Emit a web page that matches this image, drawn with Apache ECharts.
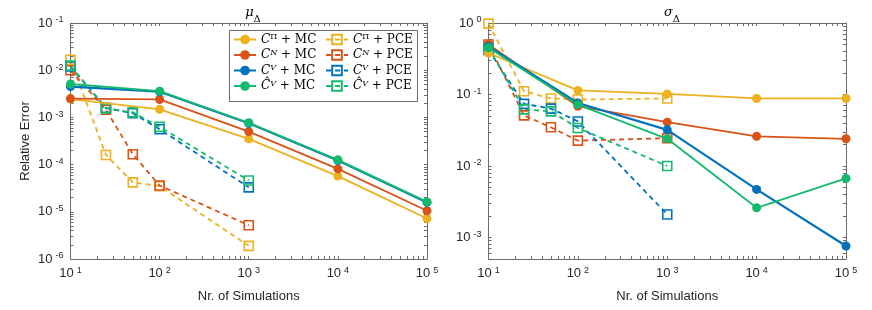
<!DOCTYPE html>
<html><head><meta charset="utf-8">
<script src="https://cdn.jsdelivr.net/npm/echarts@6/dist/echarts.min.js"></script>
<style>html,body{margin:0;padding:0;background:#fff}#c{width:872px;height:310px}</style>
</head><body><div id="c"></div>
<script>
// ---- data ----
const mcN = [10, 100, 1000, 10000, 100000];
const pceN = [10, 25, 50, 100, 1000];
// left panel: mu_Delta
const muMcPi  = [2.45e-3, 1.48e-3, 3.5e-4, 5.7e-5, 7.2e-6];
const muMcN   = [2.5e-3, 2.4e-3, 5.0e-4, 8.1e-5, 1.05e-5];
const muMcV   = [4.5e-3, 3.5e-3, 7.5e-4, 1.22e-4, 1.58e-5];
const muMcVh  = [5.1e-3, 3.6e-3, 7.7e-4, 1.26e-4, 1.62e-5];
const muPcePi = [1.66e-2, 1.6e-4, 4.2e-5, 3.5e-5, 1.9e-6];
const muPceN  = [1.0e-2, 1.45e-3, 1.66e-4, 3.6e-5, 5.2e-6];
const muPceV  = [1.2e-2, 1.6e-3, 1.22e-3, 5.6e-4, 3.3e-5];
const muPceVh = [1.25e-2, 1.55e-3, 1.28e-3, 6.3e-4, 4.6e-5];
// right panel: sigma_Delta
const sgMcPi  = [0.38, 0.114, 0.102, 0.088, 0.088];
const sgMcN   = [0.50, 0.0686, 0.041, 0.026, 0.024];
const sgMcV   = [0.47, 0.076, 0.032, 0.0047, 7.6e-4];
const sgMcVh  = [0.45, 0.072, 0.024, 0.0026, 0.0067];
const sgPcePi = [0.98, 0.111, 0.088, 0.085, 0.088];
const sgPceN  = [0.50, 0.051, 0.0348, 0.0226, 0.0245];
const sgPceV  = [0.42, 0.074, 0.0635, 0.042, 0.0021];
const sgPceVh = [0.45, 0.062, 0.058, 0.034, 0.0100];
// axis ticks
const xMajor = [10, 100, 1000, 10000, 100000];
const yMajorL = [1e-6, 1e-5, 1e-4, 1e-3, 1e-2, 1e-1];
const yMajorR = [1e-3, 1e-2, 1e-1, 1];
const titles = ['μ', 'σ'];

const colors = {pi:'#EDB120', n:'#D95319', v:'#0072BD', vh:'#14BA6C'};

function logTicks(lo, hi) {
  const out = [];
  for (let e = Math.floor(Math.log10(lo)); e <= Math.ceil(Math.log10(hi)); e++) {
    for (let m = 1; m < 10; m++) {
      const v = +(m * Math.pow(10, e)).toPrecision(6);
      if (v >= lo * 0.9999 && v <= hi * 1.0001) out.push(v);
    }
  }
  return out;
}

const tickFont = 'Liberation Sans, Arial, sans-serif';
const axisColor = '#6a6a6a';
const labRich = {
  b: {fontSize: 13, fontFamily: tickFont, color: '#262626', lineHeight: 15},
  s: {fontSize: 9, fontFamily: tickFont, color: '#262626', lineHeight: 9, verticalAlign: 'top', padding: [0,0,0,3]}
};
const fmtPow = v => '{b|10}{s|' + Math.round(Math.log10(v)) + '}';

function xAx(gi, pos, main) {
  return {
    type: 'log', gridIndex: gi, position: pos, min: 10, max: 100000,
    axisLine: {show: true, lineStyle: {color: axisColor, width: 1}},
    axisTick: {show: true, inside: true, length: 3, lineStyle: {color: axisColor}, customValues: logTicks(10, 100000)},
    axisLabel: main ? {show: true, margin: 7, customValues: xMajor, formatter: fmtPow, rich: labRich} : {show: false},
    splitLine: {show: false}, minorTick: {show: false},
    name: main ? 'Nr. of Simulations' : '', nameLocation: 'middle', nameGap: 31,
    nameTextStyle: {fontSize: 13, fontFamily: tickFont, color: '#262626'}
  };
}
function yAx(gi, pos, main, lo, hi, majors, withName) {
  return {
    type: 'log', gridIndex: gi, position: pos, min: lo, max: hi,
    axisLine: {show: true, lineStyle: {color: axisColor, width: 1}},
    axisTick: {show: true, inside: true, length: 3, lineStyle: {color: axisColor}, customValues: logTicks(lo, hi)},
    axisLabel: main ? {show: true, margin: 7, customValues: majors, formatter: fmtPow, rich: labRich} : {show: false},
    splitLine: {show: false}, minorTick: {show: false},
    name: withName ? 'Relative Error' : '', nameLocation: 'middle', nameGap: 39,
    nameTextStyle: {fontSize: 13, fontFamily: tickFont, color: '#262626'}
  };
}

function mk(name, xs, ys, colorKey, pce, xi, yi) {
  const c = colors[colorKey];
  return {
    type: 'line', name: name, xAxisIndex: xi, yAxisIndex: yi,
    data: xs.map((x, i) => [x, ys[i]]),
    symbol: pce ? 'rect' : 'circle', symbolSize: 9,
    showAllSymbol: true,
    lineStyle: {color: c, width: pce ? 1.8 : (colorKey === 'v' ? 2.2 : 1.8), type: pce ? [5, 4] : 'solid'},
    itemStyle: pce ? {color: 'rgba(255,255,255,0)', borderColor: c, borderWidth: 1.6} : {color: c, borderWidth: 0},
    emphasis: {disabled: true}, animation: false, z: pce ? 2 : 3
  };
}

const series = [];
[[0,0,[muMcPi,muMcN,muMcV,muMcVh],[muPcePi,muPceN,muPceV,muPceVh]],
 [2,2,[sgMcPi,sgMcN,sgMcV,sgMcVh],[sgPcePi,sgPceN,sgPceV,sgPceVh]]].forEach(([xi, yi, mc, pce]) => {
  const keys = ['pi','n','v','vh'];
  keys.forEach((k, i) => series.push(mk(k + 'PCE', pceN, pce[i], k, true, xi, yi)));
  keys.forEach((k, i) => series.push(mk(k + 'MC', mcN, mc[i], k, false, xi, yi)));
});

const serif = 'DejaVu Serif, Liberation Serif, serif';
const legRich = {
  c: {fontFamily: serif, fontStyle: 'italic', fontSize: 12, color: '#000', lineHeight: 13},
  p: {fontFamily: serif, fontSize: 8, color: '#000', lineHeight: 8, verticalAlign: 'top'},
  ps: {fontFamily: serif, fontStyle: 'italic', fontSize: 8, color: '#000', lineHeight: 8, verticalAlign: 'top'},
  t: {fontFamily: serif, fontSize: 12, color: '#000', lineHeight: 13}
};
function legFmt(name) {
  const k = name.replace(/MC|PCE/, '');
  const tail = name.endsWith('PCE') ? ' + PCE' : ' + MC';
  let base = '{c|C}', sup;
  if (k === 'pi') sup = '{p|Π}';
  else if (k === 'n') sup = '{ps|N}';
  else if (k === 'v') sup = '{ps|V}';
  else { base = '{c|Ĉ}'; sup = '{ps|V}'; }
  return base + sup + '{t|' + tail + '}';
}
function leg(data, left) {
  return {
    data: data, orient: 'vertical', left: left, top: 33, itemWidth: 22, itemHeight: 12, itemGap: 3,
    padding: 0, formatter: legFmt, textStyle: {rich: legRich}, selectedMode: false
  };
}
const titleRich = {
  m: {fontFamily: serif, fontStyle: 'italic', fontWeight: 'normal', fontSize: 13, color: '#000', lineHeight: 14, verticalAlign: 'top'},
  d: {fontFamily: serif, fontWeight: 'normal', fontSize: 10, color: '#000', lineHeight: 18, verticalAlign: 'bottom'}
};

const opt = {
  animation: false,
  grid: [
    {left: 70.5, top: 23, width: 356.5, height: 236},
    {left: 488.5, top: 23, width: 357.5, height: 236}
  ],
  xAxis: [xAx(0,'bottom',true), xAx(0,'top',false), xAx(1,'bottom',true), xAx(1,'top',false)],
  yAxis: [yAx(0,'left',true,1e-6,1e-1,yMajorL,true), yAx(0,'right',false,1e-6,1e-1,yMajorL,false),
          yAx(1,'left',true,5e-4,1,yMajorR,false), yAx(1,'right',false,5e-4,1,yMajorR,false)],
  title: [
    {text: '{m|' + titles[0] + '}{d|Δ}', left: 248, top: 1, textAlign: 'center', textStyle: {fontWeight: 'normal', rich: titleRich}},
    {text: '{m|' + titles[1] + '}{d|Δ}', left: 667, top: 1, textAlign: 'center', textStyle: {fontWeight: 'normal', rich: titleRich}}
  ],
  legend: [leg(['piMC','nMC','vMC','vhMC'], 233), leg(['piPCE','nPCE','vPCE','vhPCE'], 325)],
  graphic: [{type: 'rect', z: 3, shape: {x: 229.5, y: 30.5, width: 188, height: 71}, style: {fill: '#fff', stroke: '#6a6a6a', lineWidth: 1}}],
  series: series
};
const chart = echarts.init(document.getElementById('c'), null, {renderer: 'canvas'});
chart.setOption(opt);
</script></body></html>
